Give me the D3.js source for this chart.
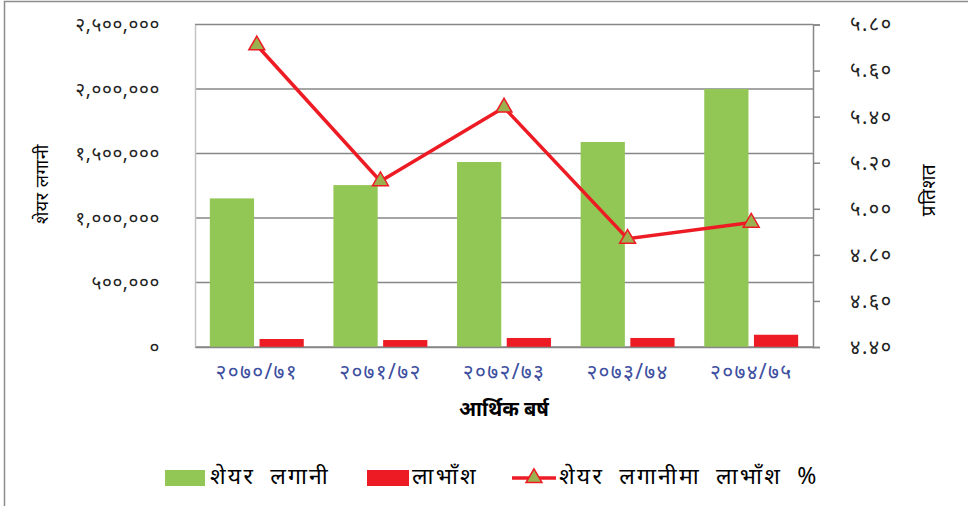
<!DOCTYPE html>
<html>
<head>
<meta charset="utf-8">
<script src="https://cdn.jsdelivr.net/npm/d3@7"></script>
<style>
    body { margin: 0; background: #fff; }
    svg text { font-family: "Noto Sans", "Lato", sans-serif; }
</style>
</head>
<body>
<div id="chart"></div>
<script>
// data
const years = ["२०७०/७१", "२०७१/७२", "२०७२/७३", "२०७३/७४", "२०७४/७५"];
const investment = [1152000, 1255000, 1434000, 1589000, 2000000];
const dividend = [62000, 54000, 70000, 70000, 95000];
const dividendPct = [5.71, 5.12, 5.44, 4.87, 4.94];

const leftTicks = [0, 500000, 1000000, 1500000, 2000000, 2500000];
const leftTickLabels = ["०", "५००,०००", "१,०००,०००", "१,५००,०००", "२,०००,०००", "२,५००,०००"];
const rightTicks = [4.4, 4.6, 4.8, 5.0, 5.2, 5.4, 5.6, 5.8];
const rightTickLabels = ["४.४०", "४.६०", "४.८०", "५.००", "५.२०", "५.४०", "५.६०", "५.८०"];

const legendLabels = ["शेयर लगानी", "लाभाँश", "शेयर लगानीमा लाभाँश %"];

const W = 968, H = 506;
const margin = { top: 24.5, right: 155, bottom: 159, left: 195 };
const width = W - margin.left - margin.right;
const height = H - margin.top - margin.bottom;

const green = "#92c655", red = "#ed1c24", grid = "#878787";

const root = d3.select("#chart").append("svg")
    .attr("width", W)
    .attr("height", H);

// outer frame (top and left edges only are visible)
root.append("path")
    .attr("d", "M4.5," + H + "V1.5H" + W)
    .attr("fill", "none")
    .attr("stroke", "#8c8c8c")
    .attr("stroke-width", 1.5);

const svg = root.append("g")
    .attr("transform", "translate(" + margin.left + "," + margin.top + ")");

const x = d3.scaleBand()
    .domain(years)
    .range([0, width]);

const inner = d3.scaleBand()
    .domain(["inv", "div"])
    .range([x.bandwidth() * 0.12, x.bandwidth() * 0.88])
    .paddingInner(0.11);

const y = d3.scaleLinear()
    .domain([0, 2500000])
    .range([height, 0]);

const y2 = d3.scaleLinear()
    .domain([4.4, 5.8])
    .range([height, 0]);

// gridlines
svg.append("g")
    .selectAll("line")
    .data(leftTicks)
    .enter().append("line")
    .attr("x1", 0)
    .attr("x2", width)
    .attr("y1", d => y(d))
    .attr("y2", d => y(d))
    .attr("stroke", grid)
    .attr("stroke-width", 1.5);

// left axis
const yAxis = svg.append("g")
    .call(d3.axisLeft(y).tickValues(leftTicks)
        .tickFormat((d, i) => leftTickLabels[i])
        .tickSize(0).tickPadding(35));
yAxis.select(".domain").attr("stroke", "#c4c4c4").attr("stroke-width", 1.5);
yAxis.selectAll("text")
    .attr("fill", "#222")
    .style("font-size", "19px")
    .style("letter-spacing", "0.6px");

// right axis
const y2Axis = svg.append("g")
    .attr("transform", "translate(" + width + ",0)")
    .call(d3.axisRight(y2).tickValues(rightTicks)
        .tickFormat((d, i) => rightTickLabels[i])
        .tickSize(7).tickSizeOuter(7).tickPadding(30));
y2Axis.select(".domain").attr("stroke", grid).attr("stroke-width", 1.5);
y2Axis.selectAll("line").attr("stroke", grid).attr("stroke-width", 1.5);
y2Axis.selectAll("text")
    .attr("fill", "#222")
    .attr("text-anchor", "start")
    .style("font-size", "20px")
    .style("letter-spacing", "1.5px");

// bars
const groups = svg.selectAll(".year")
    .data(years)
    .enter().append("g")
    .attr("transform", d => "translate(" + x(d) + ",0)");

groups.append("rect")
    .attr("x", inner("inv"))
    .attr("width", inner.bandwidth())
    .attr("y", (d, i) => y(investment[i]))
    .attr("height", (d, i) => height - y(investment[i]))
    .attr("fill", green);

groups.append("rect")
    .attr("x", inner("div"))
    .attr("width", inner.bandwidth())
    .attr("y", (d, i) => y(dividend[i]))
    .attr("height", (d, i) => height - y(dividend[i]))
    .attr("fill", red);

// bottom axis
const xAxis = svg.append("g")
    .attr("transform", "translate(0," + height + ")")
    .call(d3.axisBottom(x).tickSize(0).tickPadding(17));
xAxis.select(".domain").attr("stroke", grid).attr("stroke-width", 1.5);
xAxis.selectAll("text")
    .attr("fill", "#3d4fa0")
    .style("font-size", "21px")
    .style("letter-spacing", "1.3px");

// line of percentages
const line = d3.line()
    .x((d, i) => x(years[i]) + x.bandwidth() / 2)
    .y(d => y2(d));

svg.append("path")
    .datum(dividendPct)
    .attr("fill", "none")
    .attr("stroke", red)
    .attr("stroke-width", 3.5)
    .attr("d", line);

const tri = d3.symbol().type(d3.symbolTriangle).size(110);
svg.selectAll(".marker")
    .data(dividendPct)
    .enter().append("path")
    .attr("d", tri)
    .attr("transform", (d, i) => "translate(" + (x(years[i]) + x.bandwidth() / 2) + "," + y2(d) + ")")
    .attr("fill", "#9bb04f")
    .attr("stroke", red)
    .attr("stroke-width", 1.5);

// axis titles
svg.append("text")
    .attr("transform", "translate(" + (43 - margin.left) + "," + (184 - margin.top) + ") rotate(-90)")
    .attr("text-anchor", "middle")
    .attr("dominant-baseline", "middle")
    .style("font-size", "18px")
    .style("letter-spacing", "0.5px")
    .text("शेयर लगानी");

svg.append("text")
    .attr("transform", "translate(" + (930 - margin.left) + "," + (190 - margin.top) + ") rotate(-90)")
    .attr("text-anchor", "middle")
    .attr("dominant-baseline", "middle")
    .style("font-size", "19px")
    .style("letter-spacing", "0.5px")
    .text("प्रतिशत");

svg.append("text")
    .attr("x", width / 2)
    .attr("y", height + 69)
    .attr("text-anchor", "middle")
    .style("font-size", "20px")
    .style("font-weight", "bold")
    .text("आर्थिक बर्ष");

// legend
const legend = root.append("g")
    .attr("transform", "translate(165,478)");
const legendX = [0, 202, 347];

legend.append("rect")
    .attr("x", legendX[0]).attr("y", -8)
    .attr("width", 40).attr("height", 16)
    .attr("fill", green);
legend.append("rect")
    .attr("x", legendX[1]).attr("y", -8)
    .attr("width", 42).attr("height", 16)
    .attr("fill", red);
legend.append("line")
    .attr("x1", legendX[2]).attr("x2", legendX[2] + 44)
    .attr("y1", 0).attr("y2", 0)
    .attr("stroke", red)
    .attr("stroke-width", 3.5);
legend.append("path")
    .attr("d", tri)
    .attr("transform", "translate(" + (legendX[2] + 22) + ",0)")
    .attr("fill", "#9bb04f")
    .attr("stroke", red)
    .attr("stroke-width", 1.5);

legend.selectAll(".label")
    .data(legendLabels)
    .enter().append("text")
    .attr("x", (d, i) => legendX[i] + (i === 2 ? 47 : 45))
    .attr("y", 0)
    .attr("dominant-baseline", "middle")
    .style("font-size", "23px")
    .style("letter-spacing", "2.2px")
    .style("word-spacing", "7px")
    .text(d => d);
</script>
</body>
</html>
